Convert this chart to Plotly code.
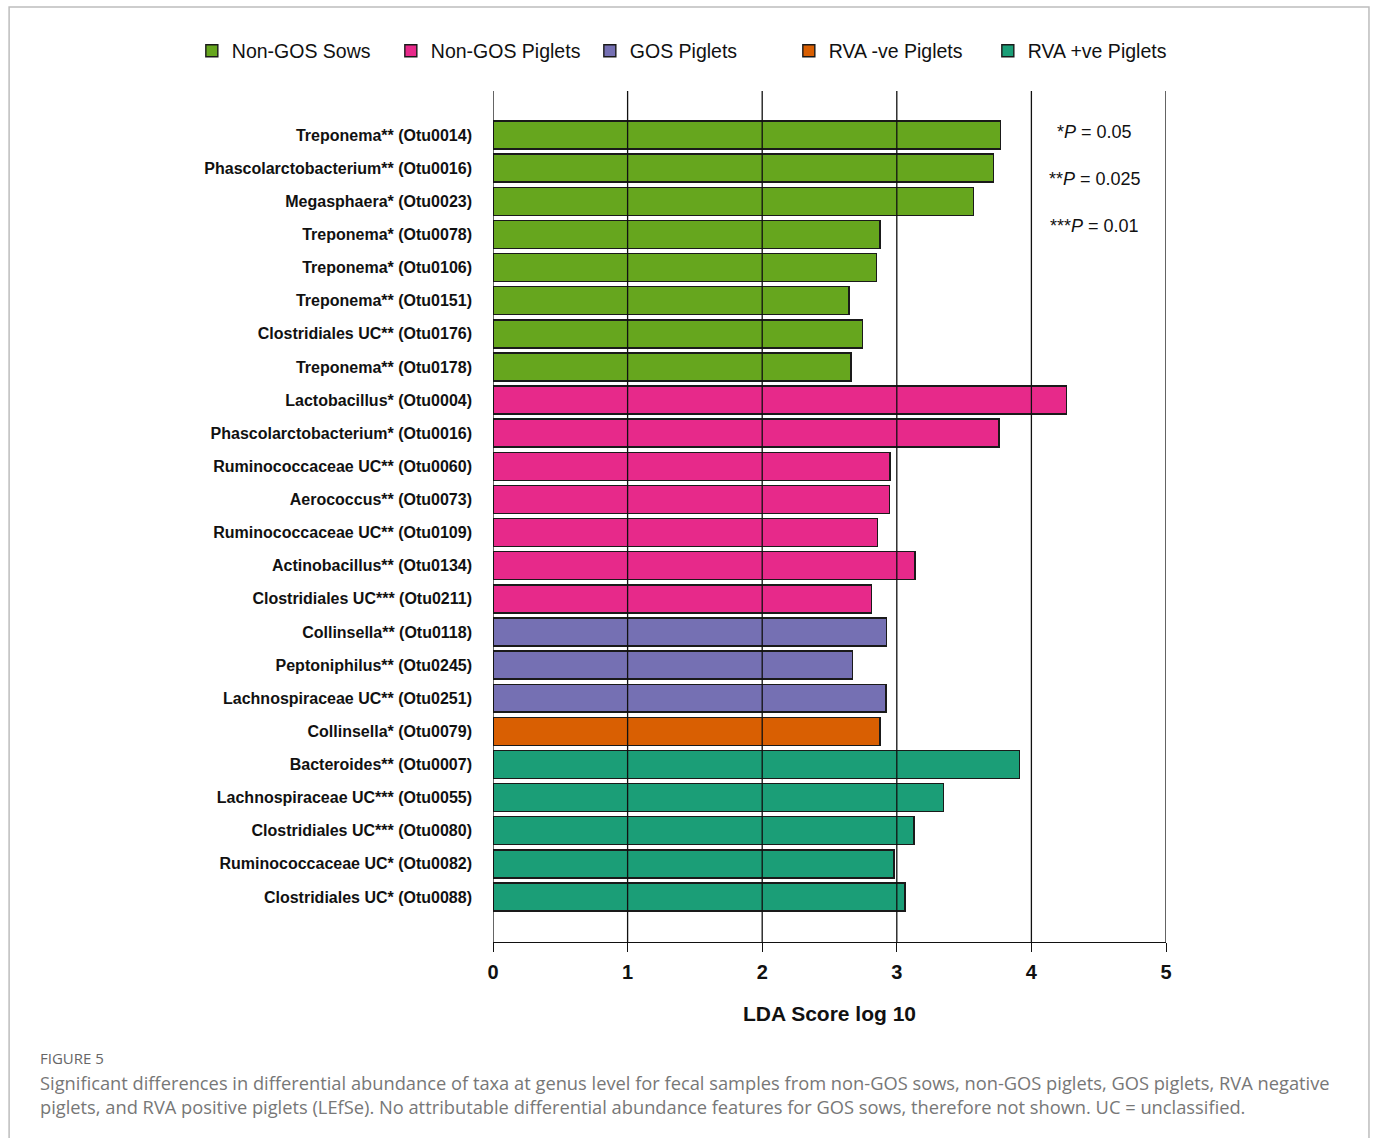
import plotly.graph_objects as go

# Taxa (top to bottom) with their LDA scores, split by the group they are enriched in
sows_taxa = ["Treponema** (Otu0014)", "Phascolarctobacterium** (Otu0016)", "Megasphaera* (Otu0023)",
             "Treponema* (Otu0078)", "Treponema* (Otu0106)", "Treponema** (Otu0151)",
             "Clostridiales UC** (Otu0176)", "Treponema** (Otu0178)"]
sows_lda = [3.77, 3.72, 3.57, 2.875, 2.85, 2.645, 2.745, 2.66]

piglets_taxa = ["Lactobacillus* (Otu0004)", "Phascolarctobacterium* (Otu0016)",
                "Ruminococcaceae UC** (Otu0060)", "Aerococcus** (Otu0073)",
                "Ruminococcaceae UC** (Otu0109)", "Actinobacillus** (Otu0134)",
                "Clostridiales UC*** (Otu0211)"]
piglets_lda = [4.26, 3.76, 2.95, 2.945, 2.855, 3.135, 2.81]

gos_taxa = ["Collinsella** (Otu0118)", "Peptoniphilus** (Otu0245)", "Lachnospiraceae UC** (Otu0251)"]
gos_lda = [2.925, 2.67, 2.92]

rva_neg_taxa = ["Collinsella* (Otu0079)"]
rva_neg_lda = [2.875]

rva_pos_taxa = ["Bacteroides** (Otu0007)", "Lachnospiraceae UC*** (Otu0055)",
                "Clostridiales UC*** (Otu0080)", "Ruminococcaceae UC* (Otu0082)",
                "Clostridiales UC* (Otu0088)"]
rva_pos_lda = [3.91, 3.345, 3.127, 2.98, 3.06]

groups = [
    ("Non-GOS Sows", sows_taxa, sows_lda, "#66A61E"),
    ("Non-GOS Piglets", piglets_taxa, piglets_lda, "#E7298A"),
    ("GOS Piglets", gos_taxa, gos_lda, "#7570B3"),
    ("RVA -ve Piglets", rva_neg_taxa, rva_neg_lda, "#D95F02"),
    ("RVA +ve Piglets", rva_pos_taxa, rva_pos_lda, "#1B9E77"),
]

x_ticks = [0, 1, 2, 3, 4, 5]
p_notes = ["*<i>P</i> = 0.05", "**<i>P</i> = 0.025", "***<i>P</i> = 0.01"]

all_taxa = sows_taxa + piglets_taxa + gos_taxa + rva_neg_taxa + rva_pos_taxa

fig = go.Figure()
for name, taxa, lda, color in groups:
    fig.add_trace(go.Bar(
        x=lda, y=taxa, orientation="h", name=name, width=0.845,
        marker=dict(color=color, line=dict(color="#1a1a1a", width=1.4)),
    ))

# vertical grid lines drawn over the bars
for v in x_ticks:
    fig.add_shape(type="line", xref="x", yref="paper", x0=v, x1=v, y0=0, y1=1,
                  layer="above", line=dict(color="#111111", width=1.3))

# significance key
for i, txt in enumerate(p_notes):
    fig.add_annotation(xref="x", yref="y", x=4.47, y=-0.1 + i * 1.43, text=txt,
                       showarrow=False, xanchor="center", yanchor="middle",
                       font=dict(family="Arial", size=18, color="#111"))

# outer figure frame
fig.add_shape(type="rect", xref="paper", yref="paper", x0=-0.719, x1=1.3016, y0=-0.24, y1=1.0987,
              layer="below", line=dict(color="#bdbdbd", width=1.5), fillcolor="rgba(0,0,0,0)")

# caption
fig.add_annotation(xref="paper", yref="paper", x=-0.676, y=(942 - 1058) / 851, text="FIGURE 5",
                   showarrow=False, xanchor="left", yanchor="middle",
                   font=dict(family="Open Sans", size=15, color="#666"))
fig.add_annotation(xref="paper", yref="paper", x=-0.676, y=(942 - 1094) / 851,
                   text="Significant differences in differential abundance of taxa at genus level for fecal samples from non-GOS sows, non-GOS piglets, GOS piglets, RVA negative<br>"
                        "piglets, and RVA positive piglets (LEfSe). No attributable differential abundance features for GOS sows, therefore not shown. UC = unclassified.",
                   showarrow=False, xanchor="left", yanchor="middle", align="left",
                   font=dict(family="Open Sans", size=18.3, color="#777"))

fig.update_layout(
    width=1375, height=1138,
    margin=dict(l=493, r=209, t=91, b=196),
    paper_bgcolor="white", plot_bgcolor="white",
    barmode="stack",
    showlegend=True,
    legend=dict(orientation="h", x=-0.4475, y=1.047, xanchor="left", yanchor="middle",
                entrywidth=154, entrywidthmode="pixels", traceorder="normal",
                font=dict(family="Arial", size=19.5, color="#111")),
    font=dict(family="Arial", color="#111"),
)

fig.update_xaxes(
    range=[0, 5], tickvals=x_ticks, ticks="outside", ticklen=9, tickcolor="#111", tickwidth=1.3,
    showline=True, linecolor="#111", linewidth=1.3, showgrid=False, zeroline=False,
    tickfont=dict(family="Arial", size=20, color="#111", weight="bold"),
    ticklabelstandoff=3,
    title=dict(text="<b>LDA Score log 10</b>", standoff=24,
               font=dict(family="Arial", size=21, color="#111")),
)
fig.update_yaxes(
    categoryorder="array", categoryarray=all_taxa, range=[24.36, -1.33],
    showgrid=False, zeroline=False, showline=False, ticks="",
    ticklabelstandoff=20,
    tickfont=dict(family="Arial", size=16, color="#111", weight="bold"),
)

fig.write_html("out.html")
